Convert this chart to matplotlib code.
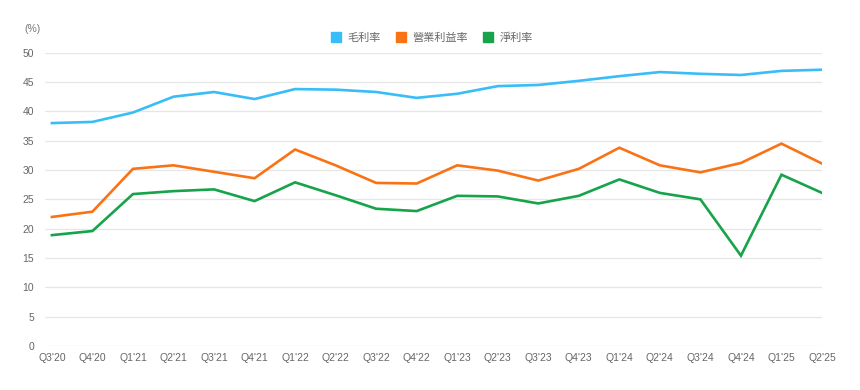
import matplotlib
matplotlib.use("Agg")
import matplotlib.pyplot as plt
from matplotlib.lines import Line2D

plt.rcParams['font.family'] = ['Noto Sans CJK TC', 'DejaVu Sans']

quarters = ["Q3'20", "Q4'20", "Q1'21", "Q2'21", "Q3'21", "Q4'21", "Q1'22", "Q2'22",
            "Q3'22", "Q4'22", "Q1'23", "Q2'23", "Q3'23", "Q4'23", "Q1'24", "Q2'24",
            "Q3'24", "Q4'24", "Q1'25", "Q2'25"]
gross_margin = [38.0, 38.2, 39.8, 42.5, 43.3, 42.1, 43.8, 43.7, 43.3, 42.3,
                43.0, 44.3, 44.5, 45.2, 46.0, 46.7, 46.4, 46.2, 46.9, 47.1]
operating_margin = [22.0, 22.9, 30.2, 30.8, 29.7, 28.6, 33.5, 30.8, 27.8, 27.7,
                    30.8, 29.9, 28.2, 30.2, 33.8, 30.8, 29.6, 31.2, 34.5, 31.1]
net_margin = [18.9, 19.6, 25.9, 26.4, 26.7, 24.7, 27.9, 25.7, 23.4, 23.0,
              25.6, 25.5, 24.3, 25.6, 28.4, 26.1, 25.0, 15.4, 29.2, 26.1]
series_names = ["毛利率", "營業利益率", "淨利率"]
colors = ["#38BDF8", "#F97316", "#16A34A"]
yticks = [0, 5, 10, 15, 20, 25, 30, 35, 40, 45, 50]

fig = plt.figure(figsize=(8.6, 3.9), dpi=100)
ax = fig.add_axes([45/860, 44/390, (822-45)/860, (346-52.7)/390])

x = list(range(len(quarters)))
for vals, c in zip([gross_margin, operating_margin, net_margin], colors):
    ax.plot(x, vals, color=c, lw=1.9, solid_joinstyle='miter', zorder=3)

ax.set_xlim(-0.17, len(quarters) - 1)
ax.set_ylim(0, 50)
ax.set_yticks(yticks)
ax.set_xticks(x)
ax.set_xticklabels(quarters)
ax.grid(axis='y', color='#e6e6e6', lw=0.9)
ax.set_axisbelow(True)
for s in ax.spines.values():
    s.set_visible(False)
ax.tick_params(axis='both', length=0, colors='#666666', labelsize=7.5)
ax.tick_params(axis='y', pad=8)
ax.tick_params(axis='x', pad=5)
for lab in ax.get_xticklabels() + ax.get_yticklabels():
    lab.set_family(['Liberation Sans', 'DejaVu Sans'])

fig.text(24/860, 1 - 29/390, "(%)", fontsize=7.5, color='#777777',
         ha='left', va='center', family=['Liberation Sans', 'DejaVu Sans'])

handles = [Line2D([], [], marker='s', linestyle='none', markersize=7.5,
                  markerfacecolor=c, markeredgecolor=c) for c in colors]
fig.legend(handles, series_names, loc='center', bbox_to_anchor=(432/860, 1 - 38/390),
           ncol=3, frameon=False, fontsize=8, labelcolor='#666666',
           handletextpad=0.55, columnspacing=1.3, handlelength=1.0)

fig.savefig("out.png", dpi=100)
